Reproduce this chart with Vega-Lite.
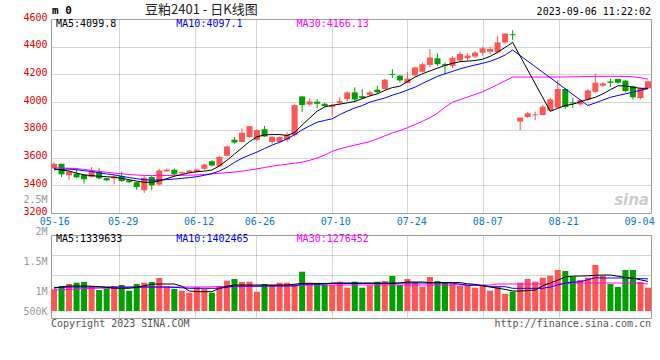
{
  "$schema": "https://vega.github.io/schema/vega-lite/v6.json",
  "background": "white",
  "padding": {"left": 22, "top": 3, "right": 5, "bottom": 5},
  "spacing": 22,
  "bounds": "flush",
  "config": {
    "font": "DejaVu Sans Mono",
    "view": {"stroke": "#999999", "strokeWidth": 1},
    "axis": {"domain": false, "ticks": false, "tickSize": 0, "labelFont": "DejaVu Sans Mono", "labelFontSize": 10, "labelOverlap": false, "labelFlush": false, "gridColor": "#a8a8a8", "gridDash": [1, 1], "gridWidth": 1}
  },
  "datasets": {
    "k": [
      {"d":"05-16","o":3522,"h":3567,"l":3518,"c":3555,"v":1142000,"m5":3520,"m10":3512,"m30":3526,"vm5":1170000,"vm10":1190000,"vm30":1125000},
      {"d":"05-17","o":3555,"h":3557,"l":3460,"c":3479,"v":1225000,"m5":3510,"m10":3515,"m30":3525,"vm5":1200000,"vm10":1190000,"vm30":1130000},
      {"d":"05-18","o":3472,"h":3503,"l":3436,"c":3500,"v":1275000,"m5":3503,"m10":3517,"m30":3523,"vm5":1225000,"vm10":1200000,"vm30":1140000},
      {"d":"05-19","o":3484,"h":3520,"l":3450,"c":3457,"v":1308000,"m5":3488,"m10":3512,"m30":3521,"vm5":1225000,"vm10":1200000,"vm30":1150000},
      {"d":"05-22","o":3476,"h":3480,"l":3412,"c":3443,"v":1325000,"m5":3475,"m10":3505,"m30":3515,"vm5":1225000,"vm10":1200000,"vm30":1160000},
      {"d":"05-23","o":3460,"h":3531,"l":3455,"c":3500,"v":1208000,"m5":3470,"m10":3500,"m30":3507,"vm5":1220000,"vm10":1200000,"vm30":1165000},
      {"d":"05-24","o":3498,"h":3522,"l":3443,"c":3450,"v":1125000,"m5":3465,"m10":3490,"m30":3501,"vm5":1208000,"vm10":1200000,"vm30":1170000},
      {"d":"05-25","o":3452,"h":3455,"l":3428,"c":3436,"v":1167000,"m5":3462,"m10":3482,"m30":3494,"vm5":1190000,"vm10":1200000,"vm30":1175000},
      {"d":"05-26","o":3450,"h":3472,"l":3407,"c":3464,"v":1225000,"m5":3458,"m10":3475,"m30":3488,"vm5":1170000,"vm10":1200000,"vm30":1180000},
      {"d":"05-29","o":3467,"h":3498,"l":3424,"c":3431,"v":1250000,"m5":3450,"m10":3465,"m30":3483,"vm5":1167000,"vm10":1200000,"vm30":1185000},
      {"d":"05-30","o":3436,"h":3440,"l":3417,"c":3422,"v":1108000,"m5":3440,"m10":3455,"m30":3478,"vm5":1167000,"vm10":1200000,"vm30":1190000},
      {"d":"05-31","o":3422,"h":3425,"l":3367,"c":3388,"v":1275000,"m5":3430,"m10":3448,"m30":3474,"vm5":1190000,"vm10":1200000,"vm30":1195000},
      {"d":"06-01","o":3364,"h":3466,"l":3345,"c":3455,"v":1308000,"m5":3422,"m10":3440,"m30":3471,"vm5":1230000,"vm10":1200000,"vm30":1200000},
      {"d":"06-02","o":3460,"h":3472,"l":3364,"c":3400,"v":1325000,"m5":3421,"m10":3437,"m30":3470,"vm5":1270000,"vm10":1200000,"vm30":1200000},
      {"d":"06-05","o":3405,"h":3520,"l":3400,"c":3507,"v":1425000,"m5":3432,"m10":3438,"m30":3470,"vm5":1275000,"vm10":1200000,"vm30":1200000},
      {"d":"06-06","o":3500,"h":3520,"l":3497,"c":3512,"v":1208000,"m5":3448,"m10":3441,"m30":3471,"vm5":1275000,"vm10":1200000,"vm30":1200000},
      {"d":"06-07","o":3512,"h":3521,"l":3475,"c":3479,"v":1150000,"m5":3465,"m10":3445,"m30":3471,"vm5":1275000,"vm10":1190000,"vm30":1200000},
      {"d":"06-08","o":3486,"h":3500,"l":3483,"c":3495,"v":1108000,"m5":3478,"m10":3450,"m30":3472,"vm5":1220000,"vm10":1180000,"vm30":1200000},
      {"d":"06-09","o":3491,"h":3512,"l":3488,"c":3507,"v":1058000,"m5":3490,"m10":3455,"m30":3473,"vm5":1100000,"vm10":1167000,"vm30":1200000},
      {"d":"06-12","o":3495,"h":3519,"l":3492,"c":3514,"v":1192000,"m5":3498,"m10":3462,"m30":3475,"vm5":1083000,"vm10":1167000,"vm30":1200000},
      {"d":"06-13","o":3519,"h":3557,"l":3510,"c":3550,"v":1150000,"m5":3502,"m10":3472,"m30":3478,"vm5":1083000,"vm10":1167000,"vm30":1200000},
      {"d":"06-14","o":3574,"h":3581,"l":3536,"c":3543,"v":1058000,"m5":3510,"m10":3484,"m30":3483,"vm5":1083000,"vm10":1167000,"vm30":1205000},
      {"d":"06-15","o":3538,"h":3612,"l":3535,"c":3605,"v":1225000,"m5":3540,"m10":3503,"m30":3487,"vm5":1167000,"vm10":1167000,"vm30":1208000},
      {"d":"06-16","o":3614,"h":3686,"l":3610,"c":3679,"v":1358000,"m5":3580,"m10":3530,"m30":3491,"vm5":1220000,"vm10":1190000,"vm30":1208000},
      {"d":"06-19","o":3729,"h":3748,"l":3700,"c":3708,"v":1400000,"m5":3625,"m10":3565,"m30":3495,"vm5":1250000,"vm10":1225000,"vm30":1208000},
      {"d":"06-20","o":3712,"h":3810,"l":3708,"c":3780,"v":1325000,"m5":3670,"m10":3595,"m30":3502,"vm5":1250000,"vm10":1225000,"vm30":1208000},
      {"d":"06-21","o":3748,"h":3828,"l":3743,"c":3826,"v":1333000,"m5":3715,"m10":3618,"m30":3510,"vm5":1250000,"vm10":1225000,"vm30":1210000},
      {"d":"06-26","o":3729,"h":3805,"l":3720,"c":3798,"v":1083000,"m5":3750,"m10":3640,"m30":3519,"vm5":1250000,"vm10":1225000,"vm30":1215000},
      {"d":"06-27","o":3805,"h":3829,"l":3750,"c":3752,"v":1275000,"m5":3764,"m10":3665,"m30":3528,"vm5":1250000,"vm10":1225000,"vm30":1220000},
      {"d":"06-28","o":3712,"h":3755,"l":3700,"c":3750,"v":1250000,"m5":3766,"m10":3690,"m30":3538,"vm5":1250000,"vm10":1225000,"vm30":1225000},
      {"d":"06-29","o":3712,"h":3752,"l":3703,"c":3748,"v":1308000,"m5":3766,"m10":3710,"m30":3545,"vm5":1250000,"vm10":1225000,"vm30":1230000},
      {"d":"06-30","o":3728,"h":3783,"l":3712,"c":3764,"v":1308000,"m5":3760,"m10":3735,"m30":3552,"vm5":1250000,"vm10":1225000,"vm30":1235000},
      {"d":"07-03","o":3762,"h":3985,"l":3750,"c":3979,"v":1275000,"m5":3780,"m10":3765,"m30":3559,"vm5":1270000,"vm10":1225000,"vm30":1240000},
      {"d":"07-04","o":4041,"h":4045,"l":3929,"c":3979,"v":1583000,"m5":3835,"m10":3800,"m30":3567,"vm5":1290000,"vm10":1270000,"vm30":1245000},
      {"d":"07-05","o":3983,"h":4026,"l":3976,"c":4005,"v":1308000,"m5":3885,"m10":3828,"m30":3580,"vm5":1290000,"vm10":1270000,"vm30":1248000},
      {"d":"07-06","o":4003,"h":4022,"l":3955,"c":3988,"v":1292000,"m5":3935,"m10":3855,"m30":3597,"vm5":1290000,"vm10":1270000,"vm30":1250000},
      {"d":"07-07","o":3988,"h":3995,"l":3965,"c":3972,"v":1250000,"m5":3965,"m10":3868,"m30":3618,"vm5":1290000,"vm10":1270000,"vm30":1250000},
      {"d":"07-10","o":3964,"h":3985,"l":3902,"c":3979,"v":1250000,"m5":3978,"m10":3880,"m30":3645,"vm5":1290000,"vm10":1300000,"vm30":1250000},
      {"d":"07-11","o":3991,"h":4036,"l":3985,"c":4007,"v":1333000,"m5":3985,"m10":3910,"m30":3663,"vm5":1290000,"vm10":1300000,"vm30":1250000},
      {"d":"07-12","o":4022,"h":4079,"l":4005,"c":4070,"v":1183000,"m5":3995,"m10":3935,"m30":3677,"vm5":1290000,"vm10":1300000,"vm30":1250000},
      {"d":"07-13","o":4071,"h":4107,"l":4000,"c":4019,"v":1333000,"m5":4005,"m10":3958,"m30":3690,"vm5":1290000,"vm10":1300000,"vm30":1250000},
      {"d":"07-14","o":4043,"h":4093,"l":4025,"c":4029,"v":1183000,"m5":4025,"m10":3975,"m30":3702,"vm5":1290000,"vm10":1300000,"vm30":1250000},
      {"d":"07-17","o":4052,"h":4083,"l":4040,"c":4071,"v":1242000,"m5":4045,"m10":4000,"m30":3715,"vm5":1290000,"vm10":1300000,"vm30":1250000},
      {"d":"07-18","o":4090,"h":4119,"l":4062,"c":4071,"v":1333000,"m5":4060,"m10":4015,"m30":3735,"vm5":1290000,"vm10":1300000,"vm30":1250000},
      {"d":"07-19","o":4095,"h":4169,"l":4090,"c":4162,"v":1350000,"m5":4085,"m10":4030,"m30":3757,"vm5":1290000,"vm10":1300000,"vm30":1250000},
      {"d":"07-20","o":4203,"h":4238,"l":4174,"c":4196,"v":1475000,"m5":4105,"m10":4050,"m30":3778,"vm5":1290000,"vm10":1300000,"vm30":1250000},
      {"d":"07-21","o":4191,"h":4195,"l":4143,"c":4157,"v":1250000,"m5":4115,"m10":4067,"m30":3795,"vm5":1300000,"vm10":1300000,"vm30":1250000},
      {"d":"07-24","o":4138,"h":4219,"l":4135,"c":4169,"v":1400000,"m5":4148,"m10":4087,"m30":3815,"vm5":1325000,"vm10":1300000,"vm30":1250000},
      {"d":"07-25","o":4193,"h":4255,"l":4183,"c":4250,"v":1325000,"m5":4180,"m10":4108,"m30":3838,"vm5":1325000,"vm10":1300000,"vm30":1250000},
      {"d":"07-26","o":4219,"h":4286,"l":4215,"c":4274,"v":1208000,"m5":4205,"m10":4135,"m30":3862,"vm5":1325000,"vm10":1300000,"vm30":1250000},
      {"d":"07-27","o":4269,"h":4383,"l":4250,"c":4322,"v":1450000,"m5":4225,"m10":4160,"m30":3888,"vm5":1310000,"vm10":1300000,"vm30":1250000},
      {"d":"07-28","o":4317,"h":4352,"l":4260,"c":4274,"v":1350000,"m5":4245,"m10":4186,"m30":3920,"vm5":1310000,"vm10":1300000,"vm30":1250000},
      {"d":"07-31","o":4274,"h":4286,"l":4202,"c":4264,"v":1317000,"m5":4265,"m10":4205,"m30":3963,"vm5":1310000,"vm10":1300000,"vm30":1250000},
      {"d":"08-01","o":4262,"h":4331,"l":4245,"c":4320,"v":1292000,"m5":4280,"m10":4222,"m30":4000,"vm5":1310000,"vm10":1300000,"vm30":1250000},
      {"d":"08-02","o":4300,"h":4365,"l":4295,"c":4348,"v":1225000,"m5":4292,"m10":4240,"m30":4018,"vm5":1310000,"vm10":1270000,"vm30":1250000},
      {"d":"08-03","o":4317,"h":4353,"l":4298,"c":4336,"v":1250000,"m5":4296,"m10":4255,"m30":4037,"vm5":1280000,"vm10":1242000,"vm30":1250000},
      {"d":"08-04","o":4329,"h":4369,"l":4317,"c":4357,"v":1183000,"m5":4300,"m10":4268,"m30":4056,"vm5":1267000,"vm10":1242000,"vm30":1250000},
      {"d":"08-07","o":4357,"h":4400,"l":4336,"c":4388,"v":1225000,"m5":4310,"m10":4280,"m30":4074,"vm5":1230000,"vm10":1242000,"vm30":1250000},
      {"d":"08-08","o":4364,"h":4400,"l":4345,"c":4383,"v":1108000,"m5":4330,"m10":4295,"m30":4100,"vm5":1200000,"vm10":1208000,"vm30":1250000},
      {"d":"08-09","o":4360,"h":4479,"l":4350,"c":4431,"v":1208000,"m5":4360,"m10":4315,"m30":4127,"vm5":1170000,"vm10":1208000,"vm30":1275000},
      {"d":"08-10","o":4431,"h":4495,"l":4417,"c":4495,"v":1025000,"m5":4395,"m10":4340,"m30":4154,"vm5":1140000,"vm10":1208000,"vm30":1275000},
      {"d":"08-11","o":4490,"h":4519,"l":4448,"c":4483,"v":1083000,"m5":4431,"m10":4376,"m30":4181,"vm5":1100000,"vm10":1167000,"vm30":1275000},
      {"d":"08-14","o":3860,"h":3890,"l":3798,"c":3888,"v":1308000,"m5":null,"m10":null,"m30":4181,"vm5":1100000,"vm10":1167000,"vm30":1275000},
      {"d":"08-15","o":3893,"h":3931,"l":3886,"c":3919,"v":1400000,"m5":null,"m10":null,"m30":4181,"vm5":1110000,"vm10":1167000,"vm30":1275000},
      {"d":"08-16","o":3905,"h":3931,"l":3869,"c":3912,"v":1333000,"m5":null,"m10":null,"m30":4181,"vm5":1125000,"vm10":1167000,"vm30":1275000},
      {"d":"08-17","o":3907,"h":3979,"l":3905,"c":3967,"v":1433000,"m5":null,"m10":null,"m30":4181,"vm5":1230000,"vm10":1167000,"vm30":1275000},
      {"d":"08-18","o":3940,"h":4030,"l":3935,"c":4020,"v":1483000,"m5":3934,"m10":null,"m30":4181,"vm5":1300000,"vm10":1200000,"vm30":1275000},
      {"d":"08-21","o":3960,"h":4162,"l":3955,"c":4095,"v":1625000,"m5":3955,"m10":null,"m30":4181,"vm5":1370000,"vm10":1250000,"vm30":1275000},
      {"d":"08-22","o":4095,"h":4100,"l":3950,"c":3965,"v":1600000,"m5":3976,"m10":null,"m30":4182,"vm5":1450000,"vm10":1300000,"vm30":1275000},
      {"d":"08-23","o":3998,"h":4030,"l":3960,"c":3990,"v":1458000,"m5":3985,"m10":null,"m30":4183,"vm5":1470000,"vm10":1320000,"vm30":1300000},
      {"d":"08-24","o":3984,"h":4020,"l":3975,"c":4015,"v":1375000,"m5":4003,"m10":null,"m30":4184,"vm5":1475000,"vm10":1333000,"vm30":1300000},
      {"d":"08-25","o":4019,"h":4095,"l":4010,"c":4085,"v":1433000,"m5":4020,"m10":3976,"m30":4185,"vm5":1480000,"vm10":1380000,"vm30":1300000},
      {"d":"08-28","o":4075,"h":4205,"l":4068,"c":4140,"v":1750000,"m5":4035,"m10":3995,"m30":4186,"vm5":1490000,"vm10":1433000,"vm30":1300000},
      {"d":"08-29","o":4119,"h":4145,"l":4110,"c":4135,"v":1483000,"m5":4060,"m10":4015,"m30":4186,"vm5":1500000,"vm10":1425000,"vm30":1300000},
      {"d":"08-30","o":4150,"h":4170,"l":4110,"c":4140,"v":1275000,"m5":4090,"m10":4035,"m30":4186,"vm5":1500000,"vm10":1425000,"vm30":1300000},
      {"d":"08-31","o":4167,"h":4170,"l":4135,"c":4140,"v":1200000,"m5":4118,"m10":4048,"m30":4186,"vm5":1470000,"vm10":1425000,"vm30":1300000},
      {"d":"09-01","o":4155,"h":4162,"l":4070,"c":4080,"v":1625000,"m5":4117,"m10":4060,"m30":4185,"vm5":1440000,"vm10":1425000,"vm30":1300000},
      {"d":"09-04","o":4114,"h":4118,"l":4020,"c":4035,"v":1625000,"m5":4108,"m10":4072,"m30":4183,"vm5":1420000,"vm10":1417000,"vm30":1300000},
      {"d":"09-05","o":4030,"h":4105,"l":4020,"c":4100,"v":1325000,"m5":4100,"m10":4085,"m30":4176,"vm5":1380000,"vm10":1410000,"vm30":1290000},
      {"d":"09-06","o":4100,"h":4155,"l":4095,"c":4150,"v":1183000,"m5":4099.8,"m10":4097.1,"m30":4166.13,"vm5":1339633,"vm10":1402465,"vm30":1276452}
    ]
  },
  "vconcat": [
    {
      "width": 600,
      "height": 194,
      "data": {"name": "k"},
      "layer": [
        {
          "transform": [{"filter": "datum.d != '09-06'"}],
          "mark": {"type": "rule", "opacity": 0},
          "encoding": {
            "x": {
              "field": "d", "type": "ordinal",
              "scale": {"type": "band", "paddingInner": 0, "paddingOuter": 0},
              "axis": {
                "orient": "bottom", "title": null, "bandPosition": 0,
                "values": ["05-16", "05-29", "06-12", "06-26", "07-10", "07-24", "08-07", "08-21", "09-04"],
                "grid": true,
                "gridOpacity": {"condition": {"test": "datum.value == '09-04' || datum.value == '05-16'", "value": 0}, "value": 1},
                "labelAngle": 0, "labelColor": "#0a78d2", "labelPadding": 3, "labelFontSize": 10
              }
            }
          }
        },
        {
          "mark": {"type": "tick", "opacity": 0},
          "encoding": {
            "y": {
              "field": "v", "type": "quantitative",
              "scale": {"domain": [2366667, 5600000], "nice": false, "zero": false},
              "axis": {
                "orient": "left", "title": null, "values": [2500000], "tickCount": 20, "grid": false,
                "labelExpr": "format(datum.value / 1000000, '.1~f') + 'M'",
                "labelColor": "#999999", "labelPadding": 4, "labelOffset": -6, "labelFontSize": 10
              }
            }
          }
        },
        {
          "encoding": {
            "x": {"field": "d", "type": "ordinal", "scale": {"type": "band", "paddingInner": 0.2, "paddingOuter": 0}, "axis": null}
          },
          "layer": [
            {
              "mark": {"type": "rule", "strokeWidth": 1},
              "encoding": {
                "y": {
                  "field": "l", "type": "quantitative",
                  "scale": {"domain": [3200, 4600], "nice": false, "zero": false},
                  "axis": {
                    "orient": "left", "title": null, "values": [3200, 3400, 3600, 3800, 4000, 4200, 4400, 4600], "tickCount": 20, "format": "d",
                    "grid": true, "labelColor": "#e00000", "labelPadding": 4, "labelOffset": -2, "labelFontSize": 10
                  }
                },
                "y2": {"field": "h"},
                "color": {"condition": {"test": "datum.c >= datum.o", "value": "#ff5555"}, "value": "#00a000"}
              }
            },
            {
              "mark": {"type": "bar"},
              "encoding": {
                "y": {"field": "o", "type": "quantitative"},
                "y2": {"field": "c"},
                "color": {"condition": {"test": "datum.c >= datum.o", "value": "#ff5555"}, "value": "#00a000"}
              }
            },
            {
              "transform": [{"filter": "isValid(datum.m30)"}],
              "mark": {"type": "line", "color": "#ff00ff", "strokeWidth": 1},
              "encoding": {"y": {"field": "m30", "type": "quantitative"}}
            },
            {
              "transform": [{"filter": "isValid(datum.m10)"}],
              "mark": {"type": "line", "color": "#0000ff", "strokeWidth": 1},
              "encoding": {"y": {"field": "m10", "type": "quantitative"}}
            },
            {
              "transform": [{"filter": "isValid(datum.m5)"}],
              "mark": {"type": "line", "color": "#000000", "strokeWidth": 1},
              "encoding": {"y": {"field": "m5", "type": "quantitative"}}
            },
            {
              "data": {"values": [{}]},
              "mark": {"type": "text", "align": "left", "baseline": "middle", "dx": 5, "dy": 5, "fontSize": 10, "color": "#000000"},
              "encoding": {"x": {"datum": "05-16", "type": "ordinal", "bandPosition": 0}, "y": {"datum": 4600, "type": "quantitative"}, "text": {"value": "MA5:4099.8"}}
            },
            {
              "data": {"values": [{}]},
              "mark": {"type": "text", "align": "left", "baseline": "middle", "dx": 5, "dy": 5, "fontSize": 10, "color": "#0000ff"},
              "encoding": {"x": {"datum": "06-07", "type": "ordinal", "bandPosition": 0}, "y": {"datum": 4600, "type": "quantitative"}, "text": {"value": "MA10:4097.1"}}
            },
            {
              "data": {"values": [{}]},
              "mark": {"type": "text", "align": "left", "baseline": "middle", "dx": 5, "dy": 5, "fontSize": 10, "color": "#ff00ff"},
              "encoding": {"x": {"datum": "07-03", "type": "ordinal", "bandPosition": 0}, "y": {"datum": 4600, "type": "quantitative"}, "text": {"value": "MA30:4166.13"}}
            },
            {
              "data": {"values": [{}]},
              "mark": {"type": "text", "align": "left", "baseline": "middle", "dx": 1, "dy": -8, "fontSize": 11, "fontWeight": "bold", "color": "#000000"},
              "encoding": {"x": {"datum": "05-16", "type": "ordinal", "bandPosition": 0}, "y": {"datum": 4600, "type": "quantitative"}, "text": {"value": "m 0"}}
            },
            {
              "data": {"values": [{}]},
              "mark": {"type": "text", "align": "center", "baseline": "middle", "dy": -9.5, "fontSize": 13, "font": "Noto Sans CJK SC", "color": "#222222"},
              "encoding": {"x": {"datum": "06-13", "type": "ordinal", "bandPosition": 0}, "y": {"datum": 4600, "type": "quantitative"}, "text": {"value": "豆粕2401 - 日K线图"}}
            },
            {
              "data": {"values": [{}]},
              "mark": {"type": "text", "align": "right", "baseline": "middle", "dy": -7.5, "fontSize": 10, "color": "#000000"},
              "encoding": {"x": {"datum": "09-06", "type": "ordinal", "bandPosition": 1}, "y": {"datum": 4600, "type": "quantitative"}, "text": {"value": "2023-09-06 11:22:02"}}
            },
            {
              "data": {"values": [{}]},
              "mark": {"type": "text", "align": "right", "baseline": "middle", "dx": -2, "dy": -13, "fontSize": 15, "font": "DejaVu Sans", "fontStyle": "italic", "fontWeight": "bold", "color": "#cccccc"},
              "encoding": {"x": {"datum": "09-06", "type": "ordinal", "bandPosition": 1}, "y": {"datum": 3200, "type": "quantitative"}, "text": {"value": "sina"}}
            }
          ]
        }
      ],
      "resolve": {"scale": {"x": "independent", "y": "independent"}, "axis": {"x": "independent", "y": "independent"}}
    },
    {
      "width": 600,
      "height": 83,
      "data": {"name": "k"},
      "layer": [
        {
          "transform": [{"filter": "datum.d != '09-06'"}],
          "mark": {"type": "rule", "opacity": 0},
          "encoding": {
            "x": {
              "field": "d", "type": "ordinal",
              "scale": {"type": "band", "paddingInner": 0, "paddingOuter": 0},
              "axis": {
                "orient": "bottom", "title": null, "bandPosition": 0, "labels": false,
                "values": ["05-16", "05-29", "06-12", "06-26", "07-10", "07-24", "08-07", "08-21", "09-04"],
                "grid": true,
                "gridOpacity": {"condition": {"test": "datum.value == '09-04' || datum.value == '05-16'", "value": 0}, "value": 1}
              }
            }
          }
        },
        {
          "mark": {"type": "tick", "opacity": 0},
          "encoding": {
            "y": {
              "field": "v", "type": "quantitative",
              "scale": {"domain": [616667, 2000000], "nice": false, "zero": false},
              "axis": {
                "orient": "left", "title": null, "values": [1500000, 2000000], "tickCount": 20, "grid": false,
                "labelExpr": "format(datum.value / 1000000, '.1~f') + 'M'",
                "labelColor": "#999999", "labelPadding": 4, "labelOffset": -3.5, "labelFontSize": 10
              }
            }
          }
        },
        {
          "encoding": {
            "x": {"field": "d", "type": "ordinal", "scale": {"type": "band", "paddingInner": 0.2, "paddingOuter": 0}, "axis": null}
          },
          "layer": [
            {
              "mark": {"type": "bar"},
              "encoding": {
                "y": {
                  "field": "v", "type": "quantitative",
                  "scale": {"domain": [425000, 2500000], "nice": false, "zero": false},
                  "axis": {
                    "orient": "left", "title": null, "values": [500000, 1000000, 1500000, 2000000], "tickCount": 20,
                    "grid": true,
                    "gridOpacity": {"condition": {"test": "datum.value < 1000000", "value": 0}, "value": 1},
                    "labelOpacity": {"condition": {"test": "datum.value > 1000000", "value": 0}, "value": 1},
                    "labelExpr": "datum.value < 1000000 ? format(datum.value / 1000, 'd') + 'K' : format(datum.value / 1000000, '.1~f') + 'M'",
                    "labelColor": "#999999", "labelPadding": 4, "labelOffset": -4, "labelFontSize": 10
                  }
                },
                "y2": {"datum": 600000},
                "color": {"condition": {"test": "datum.c >= datum.o", "value": "#ff5555"}, "value": "#00a000"}
              }
            },
            {
              "mark": {"type": "line", "color": "#ff00ff", "strokeWidth": 1},
              "encoding": {"y": {"field": "vm30", "type": "quantitative"}}
            },
            {
              "mark": {"type": "line", "color": "#0000ff", "strokeWidth": 1},
              "encoding": {"y": {"field": "vm10", "type": "quantitative"}}
            },
            {
              "mark": {"type": "line", "color": "#000000", "strokeWidth": 1},
              "encoding": {"y": {"field": "vm5", "type": "quantitative"}}
            },
            {
              "data": {"values": [{}]},
              "mark": {"type": "text", "align": "left", "baseline": "middle", "dx": 5, "dy": 3.5, "fontSize": 10, "color": "#000000"},
              "encoding": {"x": {"datum": "05-16", "type": "ordinal", "bandPosition": 0}, "y": {"datum": 2500000, "type": "quantitative"}, "text": {"value": "MA5:1339633"}}
            },
            {
              "data": {"values": [{}]},
              "mark": {"type": "text", "align": "left", "baseline": "middle", "dx": 5, "dy": 3.5, "fontSize": 10, "color": "#0000ff"},
              "encoding": {"x": {"datum": "06-07", "type": "ordinal", "bandPosition": 0}, "y": {"datum": 2500000, "type": "quantitative"}, "text": {"value": "MA10:1402465"}}
            },
            {
              "data": {"values": [{}]},
              "mark": {"type": "text", "align": "left", "baseline": "middle", "dx": 5, "dy": 3.5, "fontSize": 10, "color": "#ff00ff"},
              "encoding": {"x": {"datum": "07-03", "type": "ordinal", "bandPosition": 0}, "y": {"datum": 2500000, "type": "quantitative"}, "text": {"value": "MA30:1276452"}}
            },
            {
              "data": {"values": [{}]},
              "mark": {"type": "text", "align": "left", "baseline": "middle", "dy": 6, "fontSize": 10, "color": "#555555"},
              "encoding": {"x": {"datum": "05-16", "type": "ordinal", "bandPosition": 0}, "y": {"datum": 425000, "type": "quantitative"}, "text": {"value": "Copyright 2023 SINA.COM"}}
            },
            {
              "data": {"values": [{}]},
              "mark": {"type": "text", "align": "right", "baseline": "middle", "dy": 6, "fontSize": 10, "color": "#555555"},
              "encoding": {"x": {"datum": "09-06", "type": "ordinal", "bandPosition": 1}, "y": {"datum": 425000, "type": "quantitative"}, "text": {"value": "http://finance.sina.com.cn"}}
            }
          ]
        }
      ],
      "resolve": {"scale": {"x": "independent", "y": "independent"}, "axis": {"x": "independent", "y": "independent"}}
    }
  ]
}
